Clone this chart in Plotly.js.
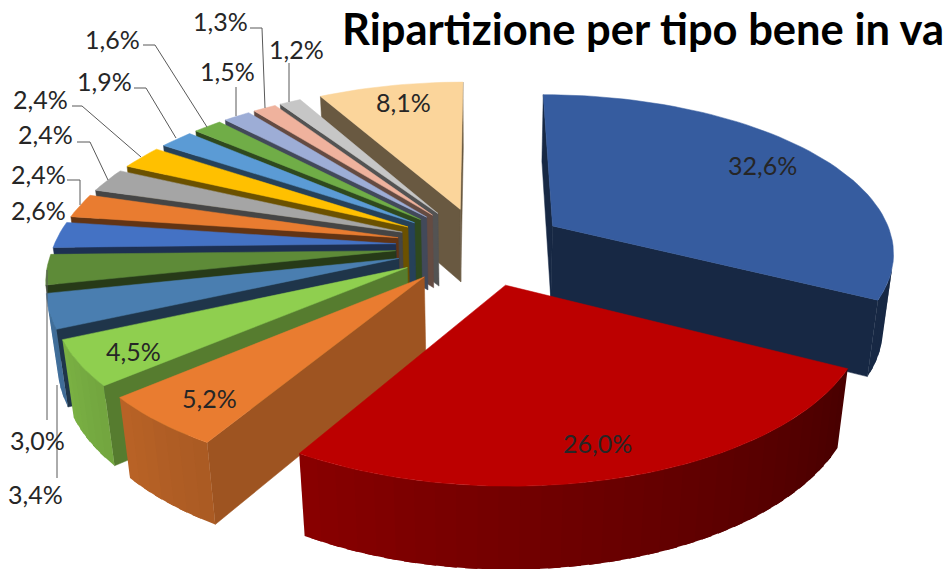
<!DOCTYPE html>
<html><head><meta charset="utf-8">
<script src="https://cdn.plot.ly/plotly-3.0.1.min.js"></script>
<style>html,body{margin:0;padding:0;background:#fff;overflow:hidden}#c{width:945px;height:569px}svg text{font-variant-ligatures:none}</style>
</head><body><div id="c"></div>
<script>
// Data
const values = [32.6, 26.0, 5.2, 4.5, 3.4, 3.0, 2.6, 2.4, 2.4, 2.4, 1.9, 1.6, 1.5, 1.3, 1.2, 8.1];
const titleText = 'Ripartizione per tipo bene in va';
// Styles
const colors = ['#365C9F','#BC0000','#E97C30','#8FCF4F','#4A7EB0','#5E8B38','#4472C4','#E97C30','#A5A5A5','#FFC000','#5B9BD5','#70AD47','#9DADD6','#EFB29D','#C6C6C6','#FBD59B'];
const labelX = [762,597,209,133,35,37,38,38,45,40,104,112,227,220,296,403];
const labelY = [165,443,398,351,494,440,210,174,134,99,81,39,71,21,49,102];
const leaders = [
 'M57,478 L57,385','M47,420 L47,270','M67,180 L80,180 L80,205','M77,142 L90,142 L108,180',
 'M72,106 L82,106 L141,157','M134,88 L146,88 L176,138','M143,45 L155,45 L207,127',
 'M236,87 L236,116','M250,28 L262,28 L265,108','M289,63 L289,102'];

// View parameters of the tilted pie
const cx=481, cy=246, A=342, B=157, H=76, D=6.55, KZ=0.168, EXPL=0.25, ROT=0;
function proj(u,v,z){const s=D/(D+v+KZ*z);return [cx+A*u*s, cy-B*v*s+H*z*s];}
function hex(c,f){const n=parseInt(c.slice(1),16);
  const r=Math.round(((n>>16)&255)*f),g=Math.round(((n>>8)&255)*f),b=Math.round((n&255)*f);
  return `rgb(${r},${g},${b})`;}
function wallShade(deg){
  if(deg<117) return 0.43;
  return Math.min(0.88,0.38+(deg-117)*0.0037);
}
function faceShade(mid){
  if(mid>240) return 0.42;
  if(mid>225) return 0.6;
  if(mid>210) return 0.68;
  return 0.43;
}
const total=values.reduce((a,b)=>a+b,0);
const traces=[];
function poly(pts,col,lw){
  traces.push({type:'scatter',mode:'lines',x:pts.map(p=>p[0]).concat(pts[0][0]),y:pts.map(p=>p[1]).concat(pts[0][1]),
    fill:'toself',fillcolor:col,line:{color:col,width:lw},hoverinfo:'skip',showlegend:false});
}
function area(q){let a=0;for(let i=0;i<q.length;i++){const p=q[i],n=q[(i+1)%q.length];a+=p[0]*n[1]-n[0]*p[1];}return a;}
let acc=0;
const slices=values.map((val,i)=>{
  const a0=ROT+acc/total*360; acc+=val; const a1=ROT+acc/total*360;
  return {i,a0,a1,mid:(a0+a1)/2};
});
const rad=d=>d*Math.PI/180;
slices.slice().sort((p,q)=>Math.cos(rad(q.mid))-Math.cos(rad(p.mid))).forEach(sl=>{
  const ox=EXPL*Math.sin(rad(sl.mid)), oy=EXPL*Math.cos(rad(sl.mid));
  const P=(deg,z)=>proj(ox+Math.sin(rad(deg)),oy+Math.cos(rad(deg)),z);
  const apex=z=>proj(ox,oy,z);
  const col=colors[sl.i];
  // radial faces
  const faces=[[apex(0),P(sl.a0,0),P(sl.a0,1),apex(1)],[P(sl.a1,0),apex(0),apex(1),P(sl.a1,1)]];
  faces.forEach(q=>{ if(area(q)<0) poly(q,hex(col,faceShade(sl.mid)),0.5); });
  // outer wall, drawn in narrow shaded bands that overlap so no seams show
  const n=Math.max(2,Math.ceil((sl.a1-sl.a0)/3));
  const step=(sl.a1-sl.a0)/n;
  for(let k=0;k<n;k++){
    const a=sl.a0+step*k,b=Math.min(sl.a1,a+step*1.6);
    const pts=[];
    const m=3;
    for(let j=0;j<=m;j++) pts.push(P(a+(b-a)*j/m,0));
    for(let j=m;j>=0;j--) pts.push(P(a+(b-a)*j/m,1));
    if(area(pts)<0) poly(pts,hex(col,wallShade(a+step/2)),0);
  }
  // top face
  const top=[apex(0)];
  const m=Math.max(4,Math.ceil((sl.a1-sl.a0)/2));
  for(let k=0;k<=m;k++) top.push(P(sl.a0+(sl.a1-sl.a0)*k/m,0));
  poly(top,col,0.5);
});

const annotations=values.map((v,i)=>({x:labelX[i],y:labelY[i],xref:'x',yref:'y',showarrow:false,
  text:v.toFixed(1).replace('.',',')+'%',xanchor:'center',yanchor:'middle',
  font:{family:'Lato, sans-serif',size:25,color:'#262626'}}));
const shapes=leaders.map(d=>({type:'path',path:d,xref:'x',yref:'y',line:{color:'#595959',width:1}}));

Plotly.newPlot('c',traces,{
  width:945,height:569,margin:{l:0,r:0,t:0,b:0},paper_bgcolor:'#fff',plot_bgcolor:'#fff',showlegend:false,
  xaxis:{range:[0,945],visible:false,fixedrange:true},
  yaxis:{range:[569,0],visible:false,fixedrange:true},
  title:{text:titleText,x:342/945,xanchor:'left',xref:'paper',y:1-30/569,yanchor:'middle',yref:'paper',automargin:false,
    font:{family:'Lato, sans-serif',size:43.5,color:'#000',weight:700}},
  annotations,shapes
},{displayModeBar:false,staticPlot:true});
</script></body></html>
